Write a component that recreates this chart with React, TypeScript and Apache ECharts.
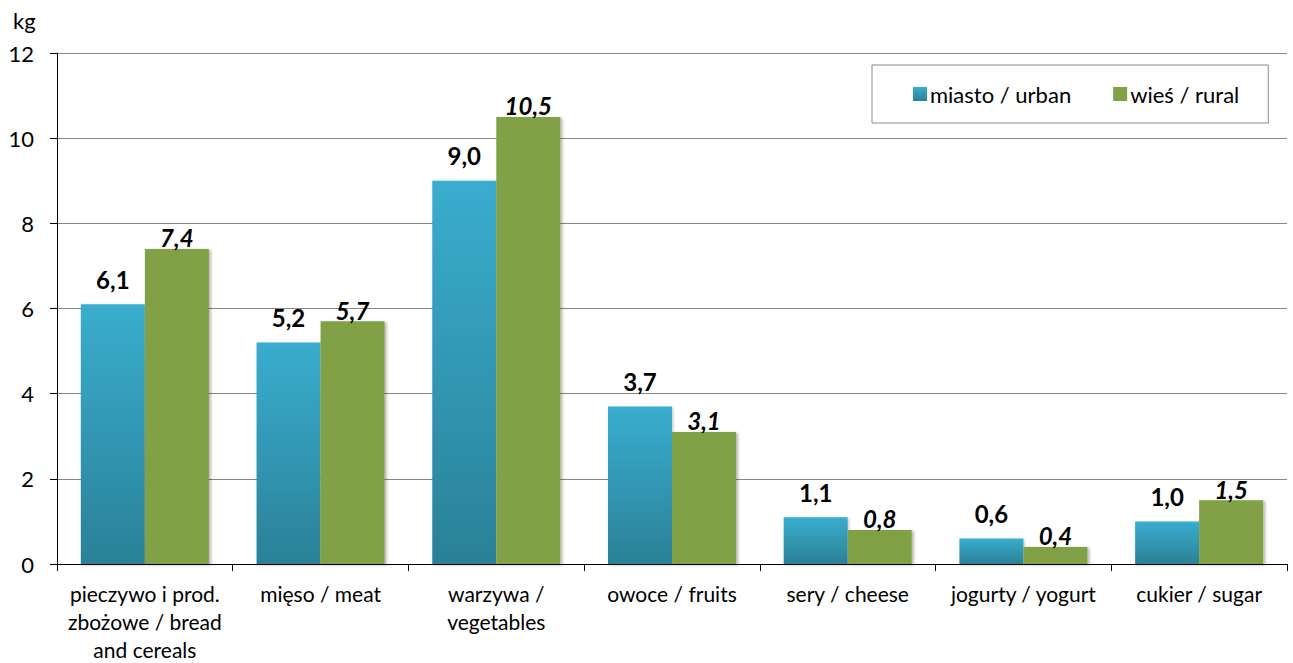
import React, { useEffect, useRef } from "react";
import * as echarts from "echarts";

const categories = [
  "pieczywo i prod.\nzbożowe / bread\nand cereals",
  "mięso / meat",
  "warzywa /\nvegetables",
  "owoce / fruits",
  "sery / cheese",
  "jogurty / yogurt",
  "cukier / sugar",
];
const urbanValues = [6.1, 5.2, 9.0, 3.7, 1.1, 0.6, 1.0];
const ruralValues = [7.4, 5.7, 10.5, 3.1, 0.8, 0.4, 1.5];
const seriesNames = ["miasto / urban", "wieś / rural"];
const unitLabel = "kg";

const FONT = "Lato, 'Open Sans', sans-serif";
const fmt = (v: number) => v.toFixed(1).replace(".", ",");

export default function App() {
  const ref = useRef<HTMLDivElement>(null);
  useEffect(() => {
    if (!ref.current) return;
    const chart = echarts.init(ref.current, undefined, { renderer: "svg" });
    chart.setOption({
      animation: false,
      textStyle: { fontFamily: FONT },
      grid: { left: 57, right: 6, top: 53, bottom: 97, containLabel: false },
      graphic: [
        {
          type: "text",
          left: 13,
          top: 9,
          style: { text: unitLabel, fontSize: 22, fontFamily: FONT, fill: "#000" },
        },
      ],
      legend: {
        left: 872,
        top: 65,
        orient: "horizontal",
        padding: [18, 29, 18, 41],
        itemGap: 42,
        itemWidth: 14,
        itemHeight: 14,
        borderColor: "#8a8a8a",
        borderWidth: 1,
        icon: "rect",
        textStyle: { fontSize: 22, color: "#000", fontFamily: FONT, padding: [0, 0, 0, -2] },
        data: seriesNames,
      },
      xAxis: {
        type: "category",
        data: categories,
        axisLine: { lineStyle: { color: "#000", width: 1 } },
        axisTick: { show: true, length: 7, lineStyle: { color: "#000" } },
        axisLabel: {
          fontSize: 21,
          color: "#000",
          lineHeight: 28,
          margin: 15,
          interval: 0,
          fontFamily: FONT,
        },
      },
      yAxis: {
        type: "value",
        min: 0,
        max: 12,
        interval: 2,
        axisLine: { show: true, lineStyle: { color: "#000", width: 1 } },
        axisTick: { show: true, length: 7, lineStyle: { color: "#000" } },
        axisLabel: { fontSize: 22, color: "#000", margin: 23, fontFamily: FONT },
        splitLine: { lineStyle: { color: "#878787", width: 1 } },
      },
      series: [
        {
          name: seriesNames[0],
          type: "bar",
          data: urbanValues,
          barWidth: 64,
          barGap: "0%",
          itemStyle: {
            color: new echarts.graphic.LinearGradient(0, 0, 0, 1, [
              { offset: 0, color: "#3AADCF" },
              { offset: 1, color: "#2A8197" },
            ]),
            shadowColor: "rgba(0,0,0,0.25)",
            shadowBlur: 3,
            shadowOffsetX: 1,
            shadowOffsetY: 1,
          },
          label: {
            show: true,
            position: "top",
            distance: 13,
            formatter: (p: any) => fmt(p.value),
            fontSize: 24,
            fontWeight: "bold",
            color: "#000",
            fontFamily: FONT,
          },
        },
        {
          name: seriesNames[1],
          type: "bar",
          data: ruralValues,
          barWidth: 64,
          barGap: "0%",
          itemStyle: {
            color: "#82A044",
            shadowColor: "rgba(0,0,0,0.3)",
            shadowBlur: 3,
            shadowOffsetX: 2,
            shadowOffsetY: 1,
          },
          label: {
            show: true,
            position: "top",
            distance: -1,
            formatter: (p: any) => fmt(p.value),
            fontSize: 24,
            fontWeight: "bold",
            fontStyle: "italic",
            color: "#000",
            fontFamily: FONT,
          },
        },
      ],
    });
    return () => chart.dispose();
  }, []);
  return (
    <div
      ref={ref}
      style={{ position: "fixed", left: 0, top: 0, width: 1293, height: 663, background: "#fff" }}
    />
  );
}
